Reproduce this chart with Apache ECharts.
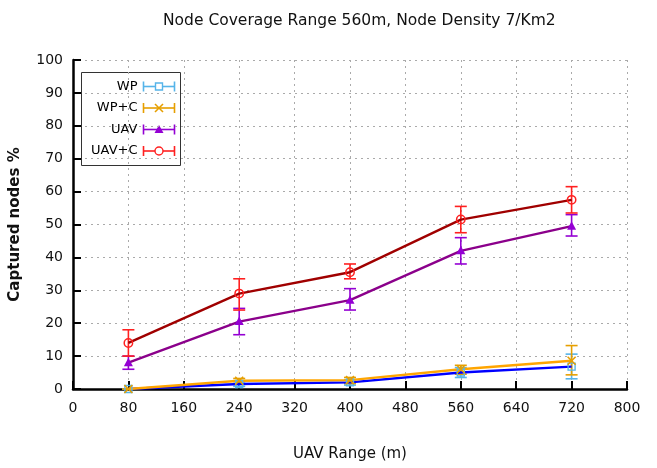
<!DOCTYPE html>
<html><head><meta charset="utf-8">
<script src="https://cdn.jsdelivr.net/npm/echarts@6/dist/echarts.min.js"></script>
<style>html,body{margin:0;padding:0;background:#fff}#c{width:657px;height:468px}</style>
</head><body><div id="c"></div>
<script>
var xValues = [80, 240, 400, 560, 720];
var seriesNames = ['WP', 'WP+C', 'UAV', 'UAV+C'];
var wpMean = [0, 1.5, 2, 5, 6.8];
var wpLow = [0, 0.8, 1.2, 3.5, 3.1];
var wpHigh = [0, 2.2, 2.8, 6.5, 10.6];
var wpcMean = [0, 2.5, 2.7, 6, 8.6];
var wpcLow = [0, 1.5, 1.7, 4.5, 4.3];
var wpcHigh = [0, 3.2, 3.5, 7.2, 13.2];
var uavMean = [8, 20.5, 27, 42, 49.5];
var uavLow = [6, 16.5, 24, 38, 46.5];
var uavHigh = [10, 24.5, 30.5, 46, 53];
var uavcMean = [14, 29, 35.5, 51.5, 57.5];
var uavcLow = [10, 24, 33.5, 47.5, 53.5];
var uavcHigh = [18, 33.5, 38, 55.5, 61.5];
var xTicks = [0, 80, 160, 240, 320, 400, 480, 560, 640, 720, 800];
var yTicks = [0, 10, 20, 30, 40, 50, 60, 70, 80, 90, 100];

var lineColors = ['#0000ff', '#ffa500', '#8b008b', '#a00000'];
var barColors = ['#56b4e9', '#e69f00', '#9400d3', '#ff2020'];
var means = [wpMean, wpcMean, uavMean, uavcMean];
var lows = [wpLow, wpcLow, uavLow, uavcLow];
var highs = [wpHigh, wpcHigh, uavHigh, uavcHigh];

var chart = echarts.init(document.getElementById('c'));
var series = [];
function errItem(color) {
  return function (params, api) {
    var x = api.value(0);
    var lo = api.coord([x, api.value(1)]);
    var hi = api.coord([x, api.value(2)]);
    var w = 6;
    var st = {stroke: color, lineWidth: 1.6, fill: null};
    return {type: 'group', children: [
      {type: 'line', shape: {x1: lo[0], y1: lo[1], x2: hi[0], y2: hi[1]}, style: st},
      {type: 'line', shape: {x1: lo[0] - w, y1: lo[1], x2: lo[0] + w, y2: lo[1]}, style: st},
      {type: 'line', shape: {x1: hi[0] - w, y1: hi[1], x2: hi[0] + w, y2: hi[1]}, style: st}
    ]};
  };
}
function markItem(kind, color) {
  return function (params, api) {
    var p = api.coord([api.value(0), api.value(1)]);
    var x = p[0], y = p[1];
    if (kind === 0) return {type: 'rect', shape: {x: x - 3.5, y: y - 3.5, width: 7, height: 7}, style: {fill: null, stroke: color, lineWidth: 1.4}};
    if (kind === 1) return {type: 'group', children: [
      {type: 'line', shape: {x1: x - 4, y1: y - 4, x2: x + 4, y2: y + 4}, style: {stroke: color, lineWidth: 1.6}},
      {type: 'line', shape: {x1: x - 4, y1: y + 4, x2: x + 4, y2: y - 4}, style: {stroke: color, lineWidth: 1.6}}]};
    if (kind === 2) return {type: 'polygon', shape: {points: [[x, y - 5], [x + 4.5, y + 3.5], [x - 4.5, y + 3.5]]}, style: {fill: color}};
    return {type: 'circle', shape: {cx: x, cy: y, r: 4.2}, style: {fill: null, stroke: color, lineWidth: 1.5}};
  };
}
for (var i = 0; i < 4; i++) {
  var ed = xValues.map(function (x, j) { return [x, lows[i][j], highs[i][j]]; });
  series.push({type: 'custom', name: seriesNames[i] + ' err', data: ed, renderItem: errItem(barColors[i]), encode: {x: 0, y: [1, 2]}, z: 2, silent: true});
}
for (var i = 0; i < 4; i++) {
  var d = xValues.map(function (x, j) { return [x, means[i][j]]; });
  series.push({type: 'line', name: seriesNames[i], data: d, showSymbol: false, symbol: 'none', lineStyle: {color: lineColors[i], width: 2.4}, z: 3, silent: true});
}
for (var i = 0; i < 4; i++) {
  var d = xValues.map(function (x, j) { return [x, means[i][j]]; });
  series.push({type: 'custom', name: seriesNames[i] + ' pt', data: d, renderItem: markItem(i, barColors[i]), encode: {x: 0, y: 1}, z: 4, silent: true});
}

// legend graphic
var legendChildren = [{type: 'rect', shape: {x: 0, y: 0, width: 99, height: 93}, style: {fill: '#fff', stroke: '#333', lineWidth: 1}}];
for (var i = 0; i < 4; i++) {
  var cy = 14 + i * 21.5;
  var c = barColors[i];
  legendChildren.push({type: 'text', style: {text: seriesNames[i], x: 56, y: cy, align: 'right', verticalAlign: 'middle', font: '13px "DejaVu Sans"', fill: '#000'}});
  legendChildren.push({type: 'line', shape: {x1: 62, y1: cy, x2: 93, y2: cy}, style: {stroke: c, lineWidth: 1.6}});
  legendChildren.push({type: 'line', shape: {x1: 62, y1: cy - 5, x2: 62, y2: cy + 5}, style: {stroke: c, lineWidth: 1.6}});
  legendChildren.push({type: 'line', shape: {x1: 93, y1: cy - 5, x2: 93, y2: cy + 5}, style: {stroke: c, lineWidth: 1.6}});
  var mx = 77.5;
  if (i === 0) legendChildren.push({type: 'rect', shape: {x: mx - 3.5, y: cy - 3.5, width: 7, height: 7}, style: {fill: '#fff', stroke: c, lineWidth: 1.4}});
  if (i === 1) {
    legendChildren.push({type: 'line', shape: {x1: mx - 4, y1: cy - 4, x2: mx + 4, y2: cy + 4}, style: {stroke: c, lineWidth: 1.6}});
    legendChildren.push({type: 'line', shape: {x1: mx - 4, y1: cy + 4, x2: mx + 4, y2: cy - 4}, style: {stroke: c, lineWidth: 1.6}});
  }
  if (i === 2) legendChildren.push({type: 'polygon', shape: {points: [[mx, cy - 4.5], [mx + 4.5, cy + 3.5], [mx - 4.5, cy + 3.5]]}, style: {fill: c}});
  if (i === 3) legendChildren.push({type: 'circle', shape: {cx: mx, cy: cy, r: 4}, style: {fill: '#fff', stroke: c, lineWidth: 1.4}});
}

var option = {
  animation: false,
  backgroundColor: '#fff',
  title: {text: 'Node Coverage Range 560m, Node Density 7/Km2', left: 158, top: 8, textStyle: {fontFamily: 'DejaVu Sans', fontSize: 15.5, fontWeight: 'normal', color: '#111'}},
  grid: {left: 73, right: 30, top: 60, bottom: 79, show: false},
  xAxis: {type: 'value', min: 0, max: 800, interval: 80, name: 'UAV Range (m)', nameLocation: 'middle', nameGap: 58,
    nameTextStyle: {fontFamily: 'DejaVu Sans', fontSize: 15, color: '#111'},
    axisLine: {show: true, onZero: false, lineStyle: {color: '#000', width: 2.5}},
    axisTick: {show: true, inside: true, length: 8, lineStyle: {color: '#000', width: 2}},
    axisLabel: {fontFamily: 'DejaVu Sans', fontSize: 14, color: '#111', margin: 12},
    splitLine: {show: true, lineStyle: {color: '#aaa', type: [2, 4], width: 1}}},
  yAxis: {type: 'value', min: 0, max: 100, interval: 10, name: 'Captured nodes %', nameLocation: 'middle', nameGap: 50,
    nameTextStyle: {fontFamily: 'DejaVu Sans', fontSize: 15, fontWeight: 'bold', color: '#111'},
    axisLine: {show: true, lineStyle: {color: '#000', width: 2.5}},
    axisTick: {show: true, inside: true, length: 8, lineStyle: {color: '#000', width: 2}},
    axisLabel: {fontFamily: 'DejaVu Sans', fontSize: 14, color: '#111', margin: 10},
    splitLine: {show: true, lineStyle: {color: '#aaa', type: [2, 4], width: 1}}},
  series: series,
  graphic: [{type: 'group', left: 81, top: 72, z: 100, children: legendChildren}]
};
chart.setOption(option);
</script></body></html>
